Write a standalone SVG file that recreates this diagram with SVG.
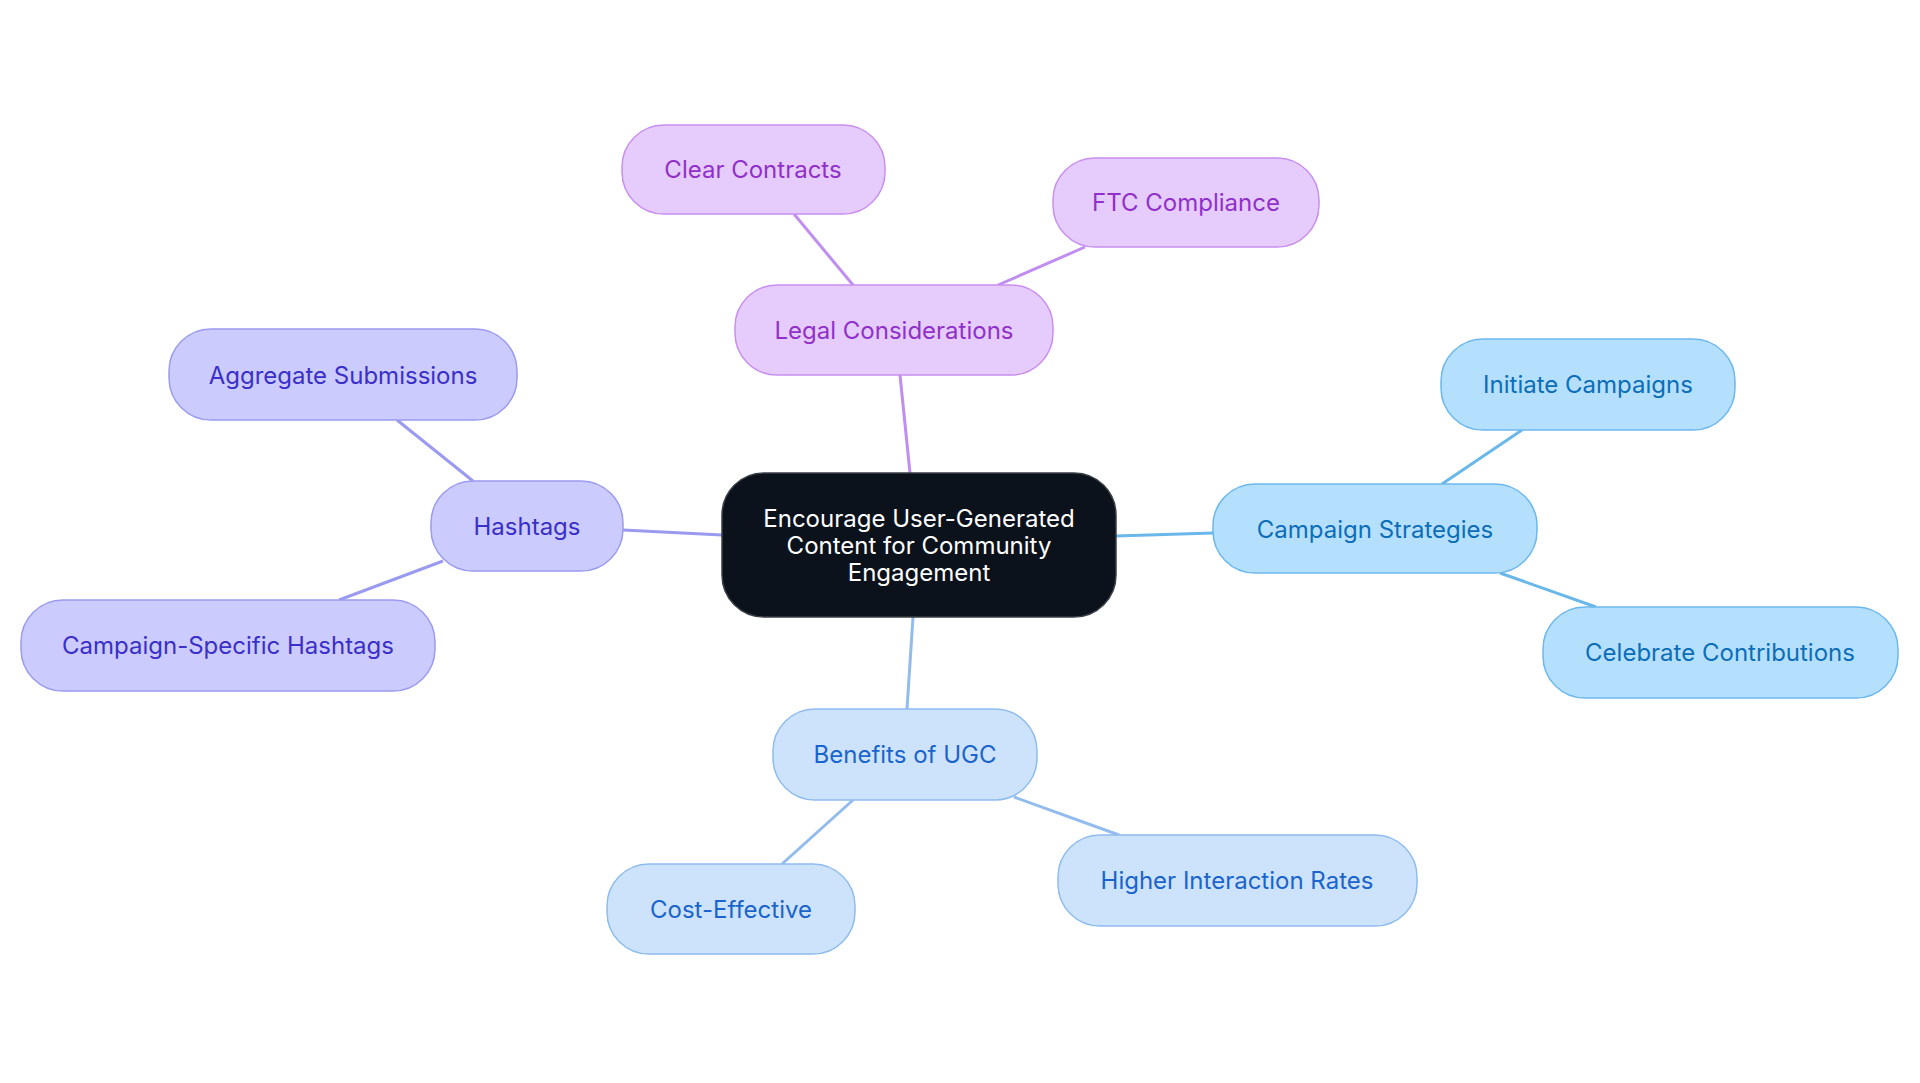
<svg xmlns="http://www.w3.org/2000/svg" width="1920" height="1083" viewBox="0 0 1920 1083">
<style>
text{font-family:Inter,"Noto Sans",sans-serif;font-size:24px;text-anchor:middle;dominant-baseline:central}
.p rect{fill:#e6cbfd;stroke:#c98ff0;stroke-width:1.5}.p text{fill:#9030c8}
.i rect{fill:#cbcbfd;stroke:#9b9bf0;stroke-width:1.5}.i text{fill:#3a2fc8}
.s rect{fill:#b5e0fd;stroke:#6cb8ee;stroke-width:1.5}.s text{fill:#0c6db8}
.b rect{fill:#cde3fb;stroke:#8fbcee;stroke-width:1.5}.b text{fill:#1a64cc}
#edges line{stroke-width:3;fill:none}
</style>
<rect width="1920" height="1083" fill="#fff"/>
<g id="edges">
<line x1="910" y1="473" x2="900" y2="375" stroke="#c08ef0"/>
<line x1="853" y1="285" x2="794" y2="214" stroke="#c08ef0"/>
<line x1="998" y1="285" x2="1085" y2="247" stroke="#c08ef0"/>
<line x1="722" y1="535" x2="623" y2="530" stroke="#9a9af0"/>
<line x1="473" y1="481" x2="397" y2="420" stroke="#9a9af0"/>
<line x1="443" y1="561" x2="339" y2="600" stroke="#9a9af0"/>
<line x1="1116" y1="536" x2="1213" y2="533" stroke="#6ab7ea"/>
<line x1="1442" y1="484" x2="1522" y2="430" stroke="#6ab7ea"/>
<line x1="1500" y1="573" x2="1596" y2="607" stroke="#6ab7ea"/>
<line x1="913" y1="617" x2="907" y2="709" stroke="#92bcee"/>
<line x1="853" y1="800" x2="782" y2="864" stroke="#92bcee"/>
<line x1="1014" y1="797" x2="1119" y2="835" stroke="#92bcee"/>
</g>
<g id="center"><rect x="722" y="473" width="394" height="144" rx="42" fill="#0b121c" stroke="#3a3f46" stroke-width="1.5"/>
<text x="919" y="518" fill="#fff">Encourage User-Generated</text><text x="919" y="545" fill="#fff">Content for Community</text><text x="919" y="572" fill="#fff">Engagement</text></g>
<g id="legal" class="p"><rect x="735" y="285" width="318" height="90" rx="42"/><text x="894" y="330">Legal Considerations</text></g>
<g id="clear" class="p"><rect x="622" y="125" width="263" height="89" rx="42"/><text x="753" y="169">Clear Contracts</text></g>
<g id="ftc" class="p"><rect x="1053" y="158" width="266" height="89" rx="42"/><text x="1186" y="202">FTC Compliance</text></g>
<g id="hashtags" class="i"><rect x="431" y="481" width="192" height="90" rx="42"/><text x="527" y="526">Hashtags</text></g>
<g id="aggregate" class="i"><rect x="169" y="329" width="348" height="91" rx="42"/><text x="343" y="375">Aggregate Submissions</text></g>
<g id="campspec" class="i"><rect x="21" y="600" width="414" height="91" rx="42"/><text x="228" y="645">Campaign-Specific Hashtags</text></g>
<g id="campaign" class="s"><rect x="1213" y="484" width="324" height="89" rx="42"/><text x="1375" y="529">Campaign Strategies</text></g>
<g id="initiate" class="s"><rect x="1441" y="339" width="294" height="91" rx="42"/><text x="1588" y="384">Initiate Campaigns</text></g>
<g id="celebrate" class="s"><rect x="1543" y="607" width="355" height="91" rx="42"/><text x="1720" y="652">Celebrate Contributions</text></g>
<g id="benefits" class="b"><rect x="773" y="709" width="264" height="91" rx="42"/><text x="905" y="754">Benefits of UGC</text></g>
<g id="cost" class="b"><rect x="607" y="864" width="248" height="90" rx="42"/><text x="731" y="909">Cost-Effective</text></g>
<g id="higher" class="b"><rect x="1058" y="835" width="359" height="91" rx="42"/><text x="1237" y="880">Higher Interaction Rates</text></g>
</svg>
